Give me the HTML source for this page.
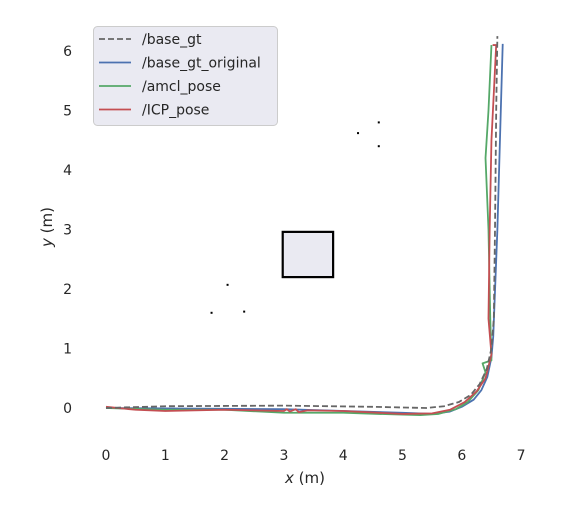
<!DOCTYPE html>
<html><head><meta charset="utf-8"><style>
body{margin:0;background:#fff;font-family:"Liberation Sans","DejaVu Sans",sans-serif}
</style></head><body>
<svg id="chart" width="578" height="505" xmlns="http://www.w3.org/2000/svg" font-family="'DejaVu Sans','Liberation Sans',sans-serif">
<g id="grid"></g><g id="map"></g><g id="series"></g><g id="axes"></g><g id="legend"></g>
</svg>
<script>
const xTicks=[0,1,2,3,4,5,6,7];
const yTicks=[0,1,2,3,4,5,6];
const gtX=[0,1,3,4.5,5.4,5.7,5.95,6.15,6.3,6.42,6.5,6.54,6.56,6.58,6.6];
const gtY=[0,0.03,0.04,0.02,0,0.03,0.1,0.22,0.4,0.65,1.0,1.5,3,5,6.25];
const origX=[0,3,5,5.5,5.8,6.0,6.2,6.33,6.43,6.5,6.53,6.6,6.69];
const origY=[0,-0.02,-0.08,-0.1,-0.06,0.02,0.14,0.3,0.52,0.85,1.2,3,6.12];
const amclX=[0,1,2,3,4,4.6,5.3,5.6,5.9,6.1,6.28,6.4,6.35,6.5,6.48,6.45,6.4,6.45,6.5];
const amclY=[0,-0.03,-0.03,-0.08,-0.08,-0.1,-0.12,-0.1,-0.02,0.1,0.3,0.6,0.75,0.8,1.5,3,4.2,5,6.1];
const icpX=[0,0.5,1,2,3,3.05,3.1,3.2,3.25,3.4,4,5,5.5,5.8,6.05,6.25,6.4,6.5,6.45,6.47,6.5,6.55,6.58,6.52];
const icpY=[0.02,-0.03,-0.05,-0.03,-0.05,-0.02,-0.06,-0.02,-0.07,-0.04,-0.05,-0.1,-0.09,-0.03,0.1,0.28,0.5,0.9,1.5,3,4.5,5.5,6.1,6.1];
const obsX=[2.98,3.83];const obsY=[2.2,2.96];
const dotX=[2.05,1.78,2.33,4.25,4.6,4.6];const dotY=[2.07,1.6,1.62,4.62,4.8,4.4];
const NS="http://www.w3.org/2000/svg";
const sx=v=>106+v*59.3, sy=v=>408-v*59.5;
function mk(t,a,p){const e=document.createElementNS(NS,t);for(const k in a)e.setAttribute(k,a[k]);p.appendChild(e);return e;}
const map=document.getElementById('map');
const ob=mk('rect',{x:sx(obsX[0]),y:sy(obsY[1]),width:sx(obsX[1])-sx(obsX[0]),height:sy(obsY[0])-sy(obsY[1]),fill:'#eaeaf2',stroke:'#000','stroke-width':2.2},map);


dotX.forEach((x,i)=>{const d=mk('rect',{x:sx(x)-1,y:sy(dotY[i])-1,width:2,height:2,fill:'#000'},map);

});
const S=document.getElementById('series');
function line(xs,ys,col,name,dash){const p=mk('polyline',{points:xs.map((x,i)=>sx(x)+','+sy(ys[i])).join(' '),fill:'none',stroke:col,'stroke-width':1.8,'stroke-linejoin':'round'},S);
if(dash)p.setAttribute('stroke-dasharray',dash);

}
line(origX,origY,'#4c72b0','series-base-gt-original');
line(amclX,amclY,'#55a868','series-amcl-pose');
line(icpX,icpY,'#c44e52','series-icp-pose');
line(gtX,gtY,'#666','series-base-gt','6,3');
const A=document.getElementById('axes');
xTicks.forEach(v=>{const t=mk('text',{x:sx(v),y:460,'font-size':14,fill:'#262626','text-anchor':'middle'},A);t.textContent=v;

});
yTicks.forEach(v=>{const t=mk('text',{x:72,y:sy(v)+5,'font-size':14,fill:'#262626','text-anchor':'end'},A);t.textContent=v;

});
const xl=mk('text',{x:305,y:483,'font-size':15,fill:'#262626','text-anchor':'middle'},A);xl.innerHTML='<tspan font-style="italic">x</tspan> (m)';


const yl=mk('text',{x:0,y:0,'font-size':15,fill:'#262626','text-anchor':'middle',transform:'translate(52,227) rotate(-90)'},A);yl.innerHTML='<tspan font-style="italic">y</tspan> (m)';


const L=document.getElementById('legend');
const lb=mk('rect',{x:93.5,y:26.5,width:184,height:99,rx:4,fill:'#eaeaf2',stroke:'#ccc'},L);


const names=['/base_gt','/base_gt_original','/amcl_pose','/ICP_pose'];
const cols=['#666','#4c72b0','#55a868','#c44e52'];
names.forEach((n,i)=>{const y=39+i*23.5;
const l=mk('line',{x1:99,x2:131,y1:y,y2:y,stroke:cols[i],'stroke-width':1.8},L);if(i==0)l.setAttribute('stroke-dasharray','6,3');


const t=mk('text',{x:142,y:y+5,'font-size':14,fill:'#262626'},L);t.textContent=n;

});
</script>
</body></html>
